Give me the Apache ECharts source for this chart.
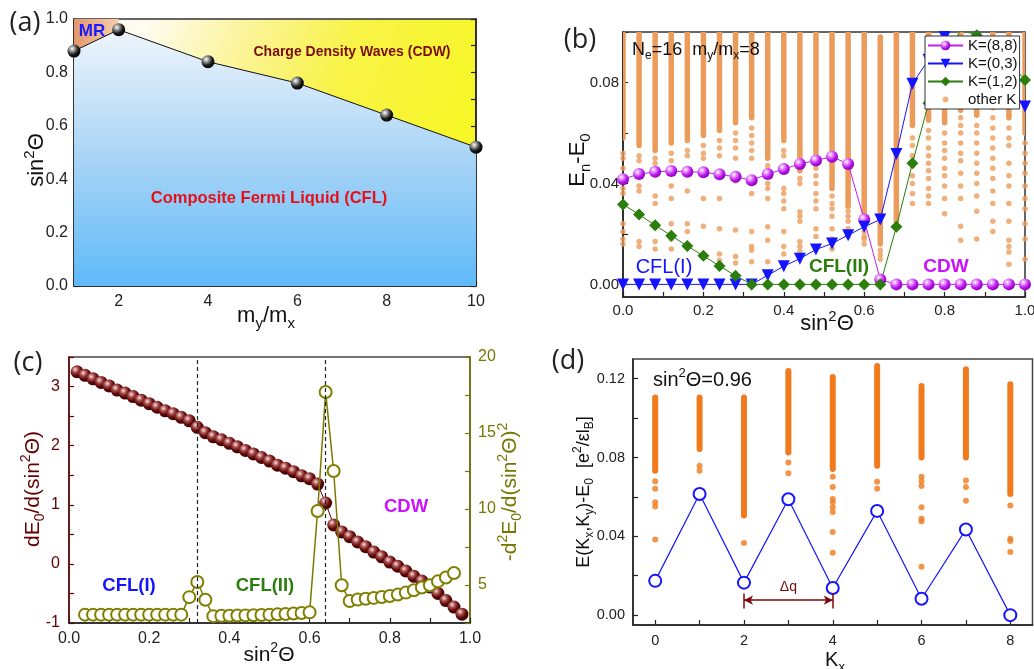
<!DOCTYPE html>
<html><head><meta charset="utf-8">
<script src="https://cdn.jsdelivr.net/npm/echarts@6/dist/echarts.min.js"></script>
<style>html,body{margin:0;padding:0;background:#fff}#c{width:1034px;height:669px}</style>
</head><body><div id="c"></div>
<script>
// ================= DATA =================
// (a) phase diagram
const aRatio = [1, 2, 4, 6, 8, 10];
const aBoundary = [0.88, 0.96, 0.84, 0.76, 0.64, 0.52];
const aMR = [[1, 1], [2, 1]];
const aXTicks = [1, 2, 3, 4, 5, 6, 7, 8, 9, 10];
const aXLabels = [2, 4, 6, 8, 10];
const aYTicks = [0, 0.1, 0.2, 0.3, 0.4, 0.5, 0.6, 0.7, 0.8, 0.9, 1.0];
const aYLabels = [0, 0.2, 0.4, 0.6, 0.8, 1.0];

// (b) low-lying spectrum
const bSin = [0, 0.04, 0.08, 0.12, 0.16, 0.2, 0.24, 0.28, 0.32, 0.36, 0.4, 0.44, 0.48, 0.52, 0.56, 0.6, 0.64, 0.68, 0.72, 0.76, 0.8, 0.84, 0.88, 0.92, 0.96, 1.0];
const bK88 = [0.0417, 0.0437, 0.0446, 0.0449, 0.0446, 0.0444, 0.0436, 0.0426, 0.0413, 0.0437, 0.0457, 0.0477, 0.0491, 0.0506, 0.0477, 0.0257, 0.0019, 0, 0, 0, 0, 0, 0, 0, 0, 0];
const bK03 = [0, 0, 0, 0, 0, 0, 0, 0, 0, 0.0036, 0.0072, 0.0102, 0.0138, 0.0162, 0.0195, 0.0228, 0.0257, 0.0517, 0.0795, 0.089, 0.098, 0.105, 0.102, 0.09, 0.078, 0.0705];
const bK12 = [0.0317, 0.0277, 0.0234, 0.0193, 0.0152, 0.0113, 0.0073, 0.0034, 0, 0, 0, 0, 0, 0, 0, 0, 0, 0.0228, 0.048, 0.0718, 0.088, 0.101, 0.0987, 0.094, 0.088, 0.081];
const bBandLo = [0.058, 0.055, 0.053, 0.056, 0.057, 0.059, 0.061, 0.064, 0.066, 0.050, 0.057, 0.045, 0.052, 0.038, 0.031, 0.026, 0.016, 0.025, 0.063, 0.065, 0.064, 0.069, 0.067, 0.070, 0.066, 0.060];
const bBandHi = [0.1, 0.1, 0.1, 0.1, 0.1, 0.1, 0.1, 0.1, 0.1, 0.1, 0.1, 0.1, 0.1, 0.1, 0.1, 0.1, 0.098, 0.1, 0.1, 0.1, 0.1, 0.1, 0.1, 0.1, 0.1, 0.1];
const bDots = [
  [0.052, 0.050, 0.046, 0.038, 0.036, 0.024, 0.021, 0.018, 0.016],
  [0.051, 0.049, 0.039, 0.037, 0.017, 0.015],
  [0.050, 0.048, 0.035, 0.032, 0.017, 0.014],
  [0.052, 0.049, 0.039, 0.034, 0.024, 0.018, 0.014],
  [0.053, 0.051, 0.037, 0.024, 0.021],
  [0.055, 0.052, 0.050, 0.034, 0.023, 0.011],
  [0.057, 0.054, 0.051, 0.034, 0.022, 0.012, 0.0095],
  [0.060, 0.057, 0.054, 0.050, 0.041, 0.0215, 0.011, 0.0085],
  [0.062, 0.059, 0.056, 0.053, 0.050, 0.040, 0.036, 0.021, 0.015, 0.0135, 0.009],
  [0.047, 0.045, 0.040, 0.038, 0.034, 0.0228, 0.0175, 0.009],
  [0.053, 0.051, 0.038, 0.036, 0.033, 0.030, 0.021, 0.015, 0.012],
  [0.042, 0.040, 0.0288, 0.027, 0.025, 0.017, 0.015, 0.013],
  [0.049, 0.046, 0.043, 0.040, 0.036, 0.033, 0.030, 0.022, 0.019],
  [0.035, 0.032, 0.030, 0.027, 0.022, 0.018, 0.016, 0.014],
  [0.029, 0.027, 0.025, 0.022, 0.019],
  [0.024, 0.021, 0.019, 0.018, 0.016],
  [0.0135, 0.0117, 0.010],
  [],
  [0.058, 0.055, 0.051, 0.047, 0.043, 0.040, 0.036, 0.032],
  [0.061, 0.058, 0.054, 0.051, 0.048, 0.045, 0.042, 0.038, 0.035, 0.032],
  [0.060, 0.056, 0.053, 0.050, 0.046, 0.043, 0.039, 0.034, 0.028],
  [0.066, 0.063, 0.060, 0.056, 0.052, 0.049, 0.044, 0.039, 0.034, 0.023, 0.0175],
  [0.063, 0.060, 0.056, 0.052, 0.048, 0.044, 0.040, 0.035, 0.029, 0.018],
  [0.066, 0.062, 0.058, 0.054, 0.050, 0.046, 0.042, 0.037, 0.032, 0.025, 0.021],
  [0.062, 0.058, 0.055, 0.048, 0.043, 0.039, 0.032, 0.025, 0.0175, 0.015, 0.0128, 0.008],
  [0.056, 0.052, 0.048, 0.044, 0.039, 0.034, 0.030, 0.024, 0.018, 0.010]
];
const bXTicks = [0, 0.1, 0.2, 0.3, 0.4, 0.5, 0.6, 0.7, 0.8, 0.9, 1.0];
const bXLabels = [0, 0.2, 0.4, 0.6, 0.8, 1.0];
const bYTicks = [0, 0.02, 0.04, 0.06, 0.08, 0.1];
const bYLabels = [0, 0.04, 0.08];

// (c) derivatives of ground-state energy
const cSinA = [0.02, 0.04, 0.06, 0.08, 0.10, 0.12, 0.14, 0.16, 0.18, 0.20, 0.22, 0.24, 0.26, 0.28, 0.30, 0.32, 0.34, 0.36, 0.38, 0.40, 0.42, 0.44, 0.46, 0.48, 0.50, 0.52, 0.54, 0.56, 0.58, 0.60, 0.62, 0.64, 0.66, 0.68, 0.70, 0.72, 0.74, 0.76, 0.78, 0.80, 0.82, 0.84, 0.86, 0.88, 0.90, 0.92, 0.94, 0.96, 0.98];
const cFirst = [3.25, 3.19, 3.13, 3.07, 3.01, 2.94, 2.89, 2.83, 2.77, 2.71, 2.65, 2.59, 2.54, 2.48, 2.42, 2.31, 2.22, 2.15, 2.10, 2.04, 1.98, 1.92, 1.86, 1.80, 1.74, 1.67, 1.62, 1.56, 1.49, 1.44, 1.35, 1.03, 0.66, 0.54, 0.46, 0.37, 0.29, 0.20, 0.12, 0.03, -0.04, -0.12, -0.21, -0.29, -0.39, -0.50, -0.62, -0.73, -0.85];
const cSinB = [0.04, 0.06, 0.08, 0.10, 0.12, 0.14, 0.16, 0.18, 0.20, 0.22, 0.24, 0.26, 0.28, 0.30, 0.32, 0.34, 0.36, 0.38, 0.40, 0.42, 0.44, 0.46, 0.48, 0.50, 0.52, 0.54, 0.56, 0.58, 0.60, 0.62, 0.64, 0.66, 0.68, 0.70, 0.72, 0.74, 0.76, 0.78, 0.80, 0.82, 0.84, 0.86, 0.88, 0.90, 0.92, 0.94, 0.96];
const cSecond = [3.05, 3.05, 3.05, 3.05, 3.05, 3.05, 3.05, 3.05, 3.05, 3.05, 3.05, 3.05, 3.05, 4.2, 5.2, 4.03, 2.95, 2.97, 2.98, 2.99, 3.0, 3.01, 3.03, 3.05, 3.07, 3.09, 3.12, 3.16, 3.2, 9.87, 17.7, 12.5, 4.98, 3.95, 4.04, 4.1, 4.15, 4.21, 4.28, 4.37, 4.5, 4.65, 4.83, 4.98, 5.24, 5.49, 5.79];
const cTransitions = [0.32, 0.64];
const cXTicks = [0, 0.1, 0.2, 0.3, 0.4, 0.5, 0.6, 0.7, 0.8, 0.9, 1.0];
const cXLabels = [0, 0.2, 0.4, 0.6, 0.8, 1.0];
const cLTicks = [-1, -0.5, 0, 0.5, 1, 1.5, 2, 2.5, 3, 3.5];
const cLLabels = [-1, 0, 1, 2, 3];
const cRTicks = [2.5, 5, 7.5, 10, 12.5, 15, 17.5, 20];
const cRLabels = [5, 10, 15, 20];

// (d) spectrum vs Kx at sin^2=0.96
const dKx = [0, 1, 2, 3, 4, 5, 6, 7, 8];
const dLowest = [0.0174, 0.0615, 0.0165, 0.0588, 0.0138, 0.0529, 0.0083, 0.0435, 0];
const dBandLo = [0.0733, 0.0843, 0.0506, 0.0826, 0.0742, 0.0758, 0.0800, 0.0800, 0.0615];
const dBandHi = [0.1104, 0.1104, 0.1104, 0.1239, 0.1209, 0.1264, 0.1163, 0.1248, 0.1172];
const dDots = [
  [0.0680, 0.0641, 0.0573, 0.0551, 0.0384],
  [0.0758, 0.0733],
  [0.0366],
  [0.0775, 0.0720],
  [0.0703, 0.0650, 0.0590, 0.0573, 0.0548, 0.0523, 0.0422, 0.0317],
  [0.0677, 0.0641],
  [0.0703, 0.0680, 0.0655, 0.0548, 0.0489, 0.0476, 0.0245],
  [0.0683, 0.0650, 0.0581],
  [0.0557, 0.0388, 0.0376, 0.0321]
];
const dArrow = {from: 2, to: 4, level: 0.0076, barLo: 0.0034, barHi: 0.0110};
const dXTicks = [0, 1, 2, 3, 4, 5, 6, 7, 8];
const dXLabels = [0, 2, 4, 6, 8];
const dYTicks = [0, 0.02, 0.04, 0.06, 0.08, 0.10, 0.12];
const dYLabels = [0, 0.04, 0.08, 0.12];

// ================= HELPERS =================
const F = 'Liberation Sans, Arial, sans-serif';
const zip = (xs, ys) => xs.map((x, i) => [x, ys[i]]);
const bandData = (xs, lo, hi) => xs.map((x, i) => [x, lo[i], hi[i]]);
const dotData = (xs, lists) => { const out = []; xs.forEach((x, i) => lists[i].forEach(v => out.push([x, v]))); return out; };
const sphere = (stops) => new echarts.graphic.RadialGradient(0.36, 0.32, 0.7, stops.map((c, i) => ({offset: i / (stops.length - 1), color: c})));

function valAxis(o) {
  return {
    type: 'value', gridIndex: o.grid, min: o.min, max: o.max, position: o.position,
    splitLine: {show: false},
    axisLine: {show: true, onZero: false, lineStyle: {color: o.color || '#222', width: 1.5}},
    axisTick: {show: true, inside: true, length: 5, customValues: o.ticks, lineStyle: {color: o.color || '#222', width: 1.2}},
    axisLabel: {show: o.labels !== null, customValues: o.labels || undefined, margin: o.margin,
      fontFamily: F, fontSize: o.fs, color: o.labelColor || '#222',
      formatter: o.fmt}
  };
}

function rich(size, color, weight) {
  const base = {fontFamily: F, fill: color, color: color, fontWeight: weight || 'normal'};
  return {
    m: Object.assign({fontSize: size, lineHeight: Math.round(size * 1.35)}, base),
    sup: Object.assign({fontSize: Math.round(size * 0.66), lineHeight: Math.round(size * 0.66), verticalAlign: 'top'}, base),
    sub: Object.assign({fontSize: Math.round(size * 0.66), lineHeight: Math.round(size * 0.66), verticalAlign: 'bottom'}, base)
  };
}
function txt(x, y, text, size, color, opts) {
  opts = opts || {};
  return {
    type: 'text', x: x, y: y, rotation: opts.rot || 0, z: 100,
    style: {
      text: text, rich: rich(size, color, opts.weight), fill: color,
      font: (opts.weight || 'normal') + ' ' + size + 'px ' + (opts.family || F),
      align: opts.align || 'center', verticalAlign: 'middle'
    }
  };
}
function plain(x, y, text, size, color, opts) {
  opts = opts || {};
  return {
    type: 'text', x: x, y: y, z: 100,
    style: {text: text, fill: color, font: (opts.weight || 'normal') + ' ' + size + 'px ' + (opts.family || F),
      align: opts.align || 'center', verticalAlign: 'middle'}
  };
}

const colMag = '#c21ff0', colBlue = '#1414ff', colGreen = '#2b7d0c';
const orangeB = '#ec9c5a', orangeD = '#f07a1c';

function bandSeries(name, xi, yi, data, color, w) {
  return {
    type: 'custom', name: name, xAxisIndex: xi, yAxisIndex: yi, data: data, z: 1, clip: true, silent: true,
    renderItem: function (params, api) {
      const top = api.coord([api.value(0), api.value(2)]);
      const bot = api.coord([api.value(0), api.value(1)]);
      return {
        type: 'rect',
        shape: {x: top[0] - w / 2, y: top[1] - w / 2, width: w, height: bot[1] - top[1] + w, r: w / 2},
        style: {fill: color}
      };
    }
  };
}

// ================= CHART =================
const chart = echarts.init(document.getElementById('c'), null, {renderer: 'canvas'});

const option = {
  animation: false,
  backgroundColor: '#fff',
  grid: [
    {left: 74, top: 19, right: 558, bottom: 383, show: true, borderColor: '#333', borderWidth: 1.5, outerBoundsMode: 'none',
     backgroundColor: new echarts.graphic.LinearGradient(0, 0, 1, 0.6, [
       {offset: 0, color: '#fff6e6'}, {offset: 0.16, color: '#fffcf2'}, {offset: 0.38, color: '#fbf49a'},
       {offset: 0.62, color: '#f8f346'}, {offset: 1, color: '#f7f720'}])},
    {left: 623, top: 32, right: 9, bottom: 372, show: true, borderColor: '#333', borderWidth: 1.5, outerBoundsMode: 'none'},
    {left: 69, top: 357, right: 564, bottom: 46, show: true, borderColor: '#444', borderWidth: 1.5, outerBoundsMode: 'none'},
    {left: 633, top: 359, right: 1.5, bottom: 44, show: true, borderColor: '#444', borderWidth: 1.5, outerBoundsMode: 'none'}
  ],
  xAxis: [
    valAxis({grid: 0, min: 1, max: 10, ticks: aXTicks, labels: aXLabels, margin: 8, fs: 16, fmt: v => String(v)}),
    valAxis({grid: 1, min: 0, max: 1, ticks: bXTicks, labels: bXLabels, margin: 6, fs: 15, fmt: v => v.toFixed(1)}),
    valAxis({grid: 2, min: 0, max: 1, ticks: cXTicks, labels: cXLabels, margin: 8, fs: 16, fmt: v => v.toFixed(1)}),
    valAxis({grid: 3, min: -0.5, max: 8.5, ticks: dXTicks, labels: dXLabels, margin: 8, fs: 14.5, fmt: v => String(v)})
  ],
  yAxis: [
    valAxis({grid: 0, min: 0, max: 1, ticks: aYTicks, labels: aYLabels, margin: 6, fs: 16, fmt: v => v.toFixed(1)}),
    valAxis({grid: 0, min: 0, max: 1, ticks: aYTicks, labels: null, position: 'right'}),
    valAxis({grid: 1, min: -0.005, max: 0.1, ticks: bYTicks, labels: bYLabels, margin: 4, fs: 15, fmt: v => v.toFixed(2)}),
    valAxis({grid: 2, min: -1, max: 3.5, ticks: cLTicks, labels: cLLabels, margin: 9, fs: 16, color: '#650000', labelColor: '#650000', fmt: v => String(v)}),
    valAxis({grid: 2, min: 2.5, max: 20, ticks: cRTicks, labels: cRLabels, position: 'right', margin: 8, fs: 16, color: '#767600', labelColor: '#767600', fmt: v => String(v)}),
    valAxis({grid: 3, min: -0.005, max: 0.13, ticks: dYTicks, labels: dYLabels, margin: 8, fs: 14.5, fmt: v => v.toFixed(2)})
  ],
  legend: {
    data: ['K=(8,8)', 'K=(0,3)', 'K=(1,2)', {name: 'other K', icon: 'path://M0,0M10,10M2.6,5a2.4,2.4 0 1,0 4.8,0a2.4,2.4 0 1,0 -4.8,0z'}],
    orient: 'vertical', left: 925, top: 36, itemWidth: 35, itemHeight: 12, itemGap: 3,
    padding: [2, 2, 2, 2], backgroundColor: '#fff', borderColor: '#333', borderWidth: 1, borderRadius: 0,
    selectedMode: false, z: 20,
    textStyle: {fontFamily: F, fontSize: 15, lineHeight: 15, color: '#111'}
  },
  series: [
    // ---- (a) ----
    {type: 'line', xAxisIndex: 0, yAxisIndex: 0, data: aMR, symbol: 'none', z: 2, silent: true,
     lineStyle: {width: 0}, areaStyle: {opacity: 1, color: new echarts.graphic.LinearGradient(0, 0, 1, 0, [
       {offset: 0, color: '#e3976b'}, {offset: 1, color: '#f6cfae'}])}},
    {type: 'line', xAxisIndex: 0, yAxisIndex: 0, data: zip(aRatio, aBoundary), z: 3, silent: true,
     symbol: 'circle', symbolSize: 13, showSymbol: true,
     lineStyle: {color: '#111', width: 1},
     itemStyle: {color: sphere(['#ffffff', '#8a8a8a', '#1a1a1a', '#000000'])},
     areaStyle: {opacity: 1, color: new echarts.graphic.LinearGradient(0, 0, 0, 1, [
       {offset: 0, color: '#eef5fc'}, {offset: 0.5, color: '#a9d4f6'}, {offset: 1, color: '#5fbaf9'}])}},

    // ---- (b) ----
    bandSeries('bands', 1, 2, bandData(bSin, bBandLo, bBandHi), orangeB, 5.5),
    {type: 'scatter', name: 'other K', xAxisIndex: 1, yAxisIndex: 2, data: dotData(bSin, bDots), z: 1,
     symbolSize: 5.5, itemStyle: {color: orangeB}, silent: true},
    {type: 'line', name: 'K=(8,8)', xAxisIndex: 1, yAxisIndex: 2, data: zip(bSin, bK88), z: 4,
     symbol: 'circle', symbolSize: 12, lineStyle: {color: colMag, width: 1},
     itemStyle: {color: sphere(['#ffffff', '#e27cff', '#b816ea', '#8d00b8'])}},
    {type: 'line', name: 'K=(0,3)', xAxisIndex: 1, yAxisIndex: 2, data: zip(bSin, bK03), z: 4,
     symbol: 'triangle', symbolRotate: 180, symbolSize: 12, lineStyle: {color: colBlue, width: 1},
     itemStyle: {color: colBlue}},
    {type: 'line', name: 'K=(1,2)', xAxisIndex: 1, yAxisIndex: 2, data: zip(bSin, bK12), z: 4,
     symbol: 'diamond', symbolSize: 12, lineStyle: {color: colGreen, width: 1},
     itemStyle: {color: colGreen}},

    // ---- (c) ----
    {type: 'line', xAxisIndex: 2, yAxisIndex: 3, data: zip(cSinA, cFirst), z: 3, silent: true,
     symbol: 'circle', symbolSize: 13, lineStyle: {color: '#5a0606', width: 1},
     itemStyle: {color: sphere(['#f6e2e2', '#a84a4a', '#5c0808', '#3a0000'])},
     markLine: {silent: true, symbol: ['none', 'none'], label: {show: false},
       lineStyle: {type: [4, 3], color: '#222', width: 1.2},
       data: cTransitions.map(v => ({xAxis: v}))}},
    {type: 'line', xAxisIndex: 2, yAxisIndex: 4, data: zip(cSinB, cSecond), z: 4, silent: true,
     symbol: 'emptyCircle', symbolSize: 12, lineStyle: {color: '#7a7a00', width: 1.5},
     itemStyle: {color: '#7f7f00', borderColor: '#7f7f00', borderWidth: 2.5}},

    // ---- (d) ----
    bandSeries('bandsD', 3, 5, bandData(dKx, dBandLo, dBandHi), orangeD, 6),
    {type: 'scatter', xAxisIndex: 3, yAxisIndex: 5, data: dotData(dKx, dDots), z: 1,
     symbolSize: 6, itemStyle: {color: orangeD}, silent: true},
    {type: 'line', xAxisIndex: 3, yAxisIndex: 5, data: zip(dKx, dLowest), z: 4, silent: true,
     symbol: 'emptyCircle', symbolSize: 12, lineStyle: {color: colBlue, width: 1.2},
     itemStyle: {color: colBlue, borderColor: colBlue, borderWidth: 2},
     markLine: {silent: true, animation: false, lineStyle: {color: '#7a0a0a', width: 1.5, type: 'solid'},
       symbolSize: [7, 9],
       data: [
         [{coord: [dArrow.from, dArrow.level], symbol: 'arrow'}, {coord: [dArrow.to, dArrow.level], symbol: 'arrow',
           label: {show: true, formatter: 'Δq', position: 'insideMiddleTop', distance: 6, color: '#7a0a0a', fontFamily: F, fontSize: 14}}],
         [{coord: [dArrow.from, dArrow.barLo], symbol: 'none'}, {coord: [dArrow.from, dArrow.barHi], symbol: 'none', label: {show: false}}],
         [{coord: [dArrow.to, dArrow.barLo], symbol: 'none'}, {coord: [dArrow.to, dArrow.barHi], symbol: 'none', label: {show: false}}]
       ]}}
  ],
  graphic: [
    // panel letters
    plain(25, 23, '(a)', 27, '#222', {family: 'Open Sans, sans-serif'}),
    plain(580, 40, '(b)', 27, '#222', {family: 'Open Sans, sans-serif'}),
    plain(28, 363, '(c)', 27, '#222', {family: 'Open Sans, sans-serif'}),
    plain(568, 361, '(d)', 27, '#222', {family: 'Open Sans, sans-serif'}),
    // (a) texts
    plain(92, 31, 'MR', 17, '#1a1aff', {weight: 'bold'}),
    plain(352, 52, 'Charge Density Waves (CDW)', 14, '#7a0c0c', {weight: 'bold'}),
    plain(269, 198, 'Composite Fermi Liquid (CFL)', 16.5, '#e5101a', {weight: 'bold'}),
    txt(37, 160, '{m|sin}{sup|2}{m|Θ}', 22, '#111', {rot: Math.PI / 2}),
    txt(266, 316, '{m|m}{sub|y}{m|/m}{sub|x}', 22, '#111'),
    // (b) texts
    txt(632, 50, '{m|N}{sub|e}{m|=16  m}{sub|y}{m|/m}{sub|x}{m|=8}', 18, '#111', {align: 'left'}),
    txt(578, 160, '{m|E}{sub|n}{m|-E}{sub|0}', 22, '#111', {rot: Math.PI / 2}),
    txt(827, 324, '{m|sin}{sup|2}{m|Θ}', 22, '#111'),
    plain(664, 267, 'CFL(I)', 20, colBlue),
    plain(839, 267, 'CFL(II)', 19, colGreen, {weight: 'bold'}),
    plain(946, 267, 'CDW', 19, '#cc11ff', {weight: 'bold'}),
    // (c) texts
    txt(33, 489, '{m|dE}{sub|0}{m|/d(sin}{sup|2}{m|Θ)}', 21, '#650000', {rot: Math.PI / 2}),
    txt(510, 492, '{m|-d}{sup|2}{m|E}{sub|0}{m|/d(sin}{sup|2}{m|Θ)}{sup|2}', 21, '#767600', {rot: Math.PI / 2}),
    txt(269, 655, '{m|sin}{sup|2}{m|Θ}', 21, '#111'),
    plain(129, 586, 'CFL(I)', 18.5, colBlue, {weight: 'bold'}),
    plain(265, 586, 'CFL(II)', 18.5, colGreen, {weight: 'bold'}),
    plain(406, 507, 'CDW', 18.5, '#cc11ff', {weight: 'bold'}),
    // (d) texts
    txt(653, 380, '{m|sin}{sup|2}{m|Θ=0.96}', 20, '#111', {align: 'left'}),
    txt(584, 492, '{m|E(K}{sub|x}{m|,K}{sub|y}{m|)-E}{sub|0}{m|  [e}{sup|2}{m|/εl}{sub|B}{m|]}', 18, '#111', {rot: Math.PI / 2}),
    txt(835, 660, '{m|K}{sub|x}', 20, '#111')
  ]
};
chart.setOption(option);
</script>
</body></html>
